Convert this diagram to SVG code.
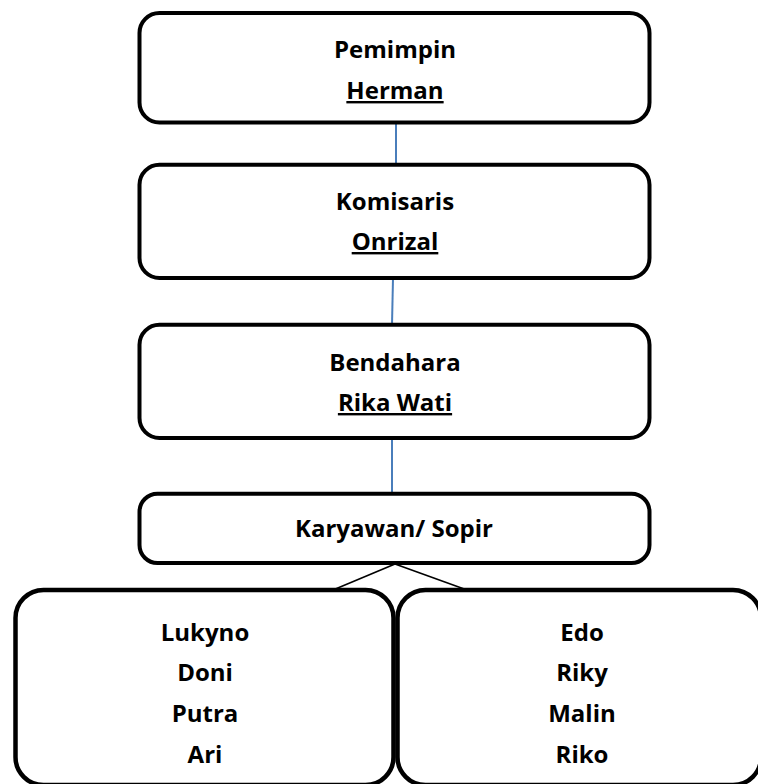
<svg xmlns="http://www.w3.org/2000/svg" width="758" height="784" viewBox="0 0 758 784">
  <style>
    .box { fill: #ffffff; stroke: #000000; stroke-width: 4; }
    .box2 { fill: #ffffff; stroke: #000000; stroke-width: 4.5; }
    .t { font-family: "Open Sans", "Noto Sans", "Liberation Sans", sans-serif; font-weight: bold; font-size: 24px; fill: #000000; text-anchor: middle; }
    .u { text-decoration: underline; }
    .blue { stroke: #4A7EBB; stroke-width: 2; fill: none; }
    .blk { stroke: #000000; stroke-width: 1.6; fill: none; }
  </style>
  <rect width="758" height="784" fill="#ffffff"/>
  <g id="connectors">
    <line class="blue" x1="396" y1="123" x2="396" y2="165"/>
    <line class="blue" x1="393" y1="278" x2="392" y2="325"/>
    <line class="blue" x1="392" y1="438" x2="392" y2="494"/>
    <line class="blk" x1="395" y1="564" x2="333" y2="590"/>
    <line class="blk" x1="395" y1="564" x2="467" y2="590"/>
  </g>
  <g id="pemimpin">
    <rect class="box" x="139.5" y="13" width="510" height="109.5" rx="20" ry="20"/>
    <text class="t" x="395" y="58">Pemimpin</text>
    <text class="t u" x="395" y="99">Herman</text>
  </g>
  <g id="komisaris">
    <rect class="box" x="139.5" y="164.7" width="510" height="113.3" rx="20" ry="20"/>
    <text class="t" x="395" y="210">Komisaris</text>
    <text class="t u" x="395" y="250">Onrizal</text>
  </g>
  <g id="bendahara">
    <rect class="box" x="139.5" y="324.7" width="510" height="113.3" rx="20" ry="20"/>
    <text class="t" x="395" y="371">Bendahara</text>
    <text class="t u" x="395" y="411">Rika Wati</text>
  </g>
  <g id="karyawan">
    <rect class="box" x="139.5" y="493.7" width="510" height="69.3" rx="18" ry="18"/>
    <text class="t" x="394" y="537">Karyawan/ Sopir</text>
  </g>
  <g id="kelompok-kiri">
    <rect class="box2" x="15.5" y="590" width="378" height="195" rx="28" ry="28"/>
    <text class="t" x="205" y="641">Lukyno</text>
    <text class="t" x="205" y="681">Doni</text>
    <text class="t" x="205" y="722">Putra</text>
    <text class="t" x="205" y="763">Ari</text>
  </g>
  <g id="kelompok-kanan">
    <rect class="box2" x="397.5" y="590" width="363.5" height="195" rx="28" ry="28"/>
    <text class="t" x="582" y="641">Edo</text>
    <text class="t" x="582" y="681">Riky</text>
    <text class="t" x="582" y="722">Malin</text>
    <text class="t" x="582" y="763">Riko</text>
  </g>
</svg>
